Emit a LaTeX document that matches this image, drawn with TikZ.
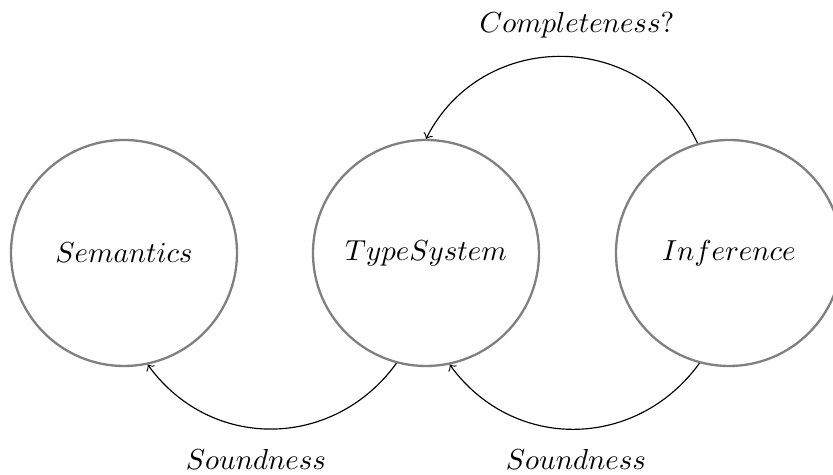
\documentclass[tikz,border=0pt]{standalone}
\begin{document}
\begin{tikzpicture}[x=0.346pt,y=0.346pt,
  state/.style={circle,draw=gray,thick,minimum size=78.2pt,inner sep=0pt},
  conn/.style={->,thin,black},
  lbl/.style={anchor=base,inner sep=0pt}]
\useasboundingbox (0,0) rectangle (833,475);
\node[state] (sem) at (124,222) {$Semantics$};
\node[state] (ts)  at (426,222) {$TypeSystem$};
\node[state] (inf) at (729,222) {$Inference$};
\draw[conn] (ts.255)  to[out=234,in=306,looseness=1.1] (sem.282);
\draw[conn] (inf.255) to[out=234,in=306,looseness=1.1] (ts.282);
\draw[conn] (inf.106) to[out=115,in=63,looseness=1.18] (ts.90);
\node[lbl] (s1) at (256,5) {$Soundness$};
\node[lbl] (s2) at (576,5) {$Soundness$};
\node[lbl] (c1) at (577,442) {$Completeness?$};
\end{tikzpicture}
\end{document}
